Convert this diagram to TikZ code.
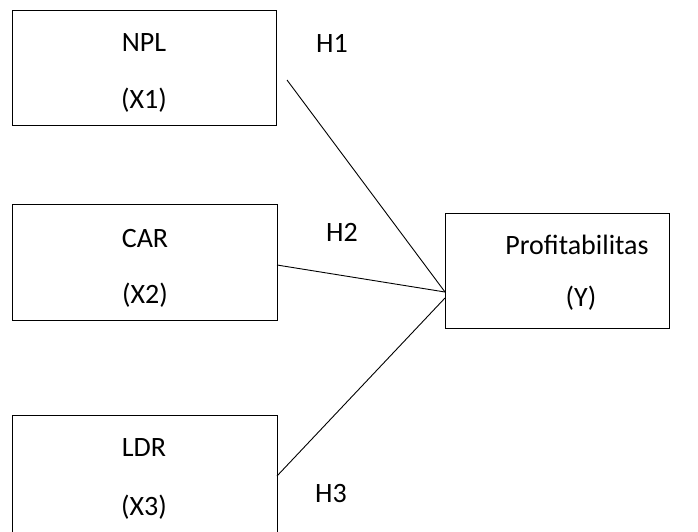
\documentclass[tikz,border=0pt]{standalone}
\usepackage{fontspec}
\setmainfont{Carlito}
\begin{document}
\begin{tikzpicture}[x=1pt,y=-1pt,
  box/.style={draw=black,line width=0.9pt,rectangle,inner sep=0pt},
  lbl/.style={inner sep=0pt,font=\fontsize{28}{32}\selectfont},
  conn/.style={draw=black,line width=0.9pt}]
\useasboundingbox (0,0) rectangle (698,532);
\clip (0,0) rectangle (698,532);
% boxes
\node[box,minimum width=264pt,minimum height=115pt] (npl) at (144,67.5) {};
\node[box,minimum width=265pt,minimum height=116pt] (car) at (144.5,262) {};
\node[box,minimum width=265pt,minimum height=118pt] (ldr) at (144.5,474) {};
\node[box,minimum width=224pt,minimum height=115pt] (prof) at (557,270.5) {};
% labels
\node[lbl] (t1) at (144,43) {NPL};
\node[lbl] (t2) at (144,100) {(X1)};
\node[lbl] (t3) at (145,239) {CAR};
\node[lbl] (t4) at (145,295) {(X2)};
\node[lbl] (t5) at (144,448) {LDR};
\node[lbl] (t6) at (144,507) {(X3)};
\node[lbl] (t7) at (577,245) {Profitabilitas};
\node[lbl] (t8) at (581,298) {(Y)};
\node[lbl] (h1) at (332,43) {H1};
\node[lbl] (h2) at (342,232) {H2};
\node[lbl] (h3) at (331,494) {H3};
% connector ends
\coordinate (a1) at (287,80);
\coordinate (a2) at (277,265);
\coordinate (a3) at (277,476);
\coordinate (b1) at (445,292);
\coordinate (b3) at (445,298);
\draw[conn] (a1) -- (b1);
\draw[conn] (a2) -- (b1);
\draw[conn] (a3) -- (b3);
\end{tikzpicture}
\end{document}
